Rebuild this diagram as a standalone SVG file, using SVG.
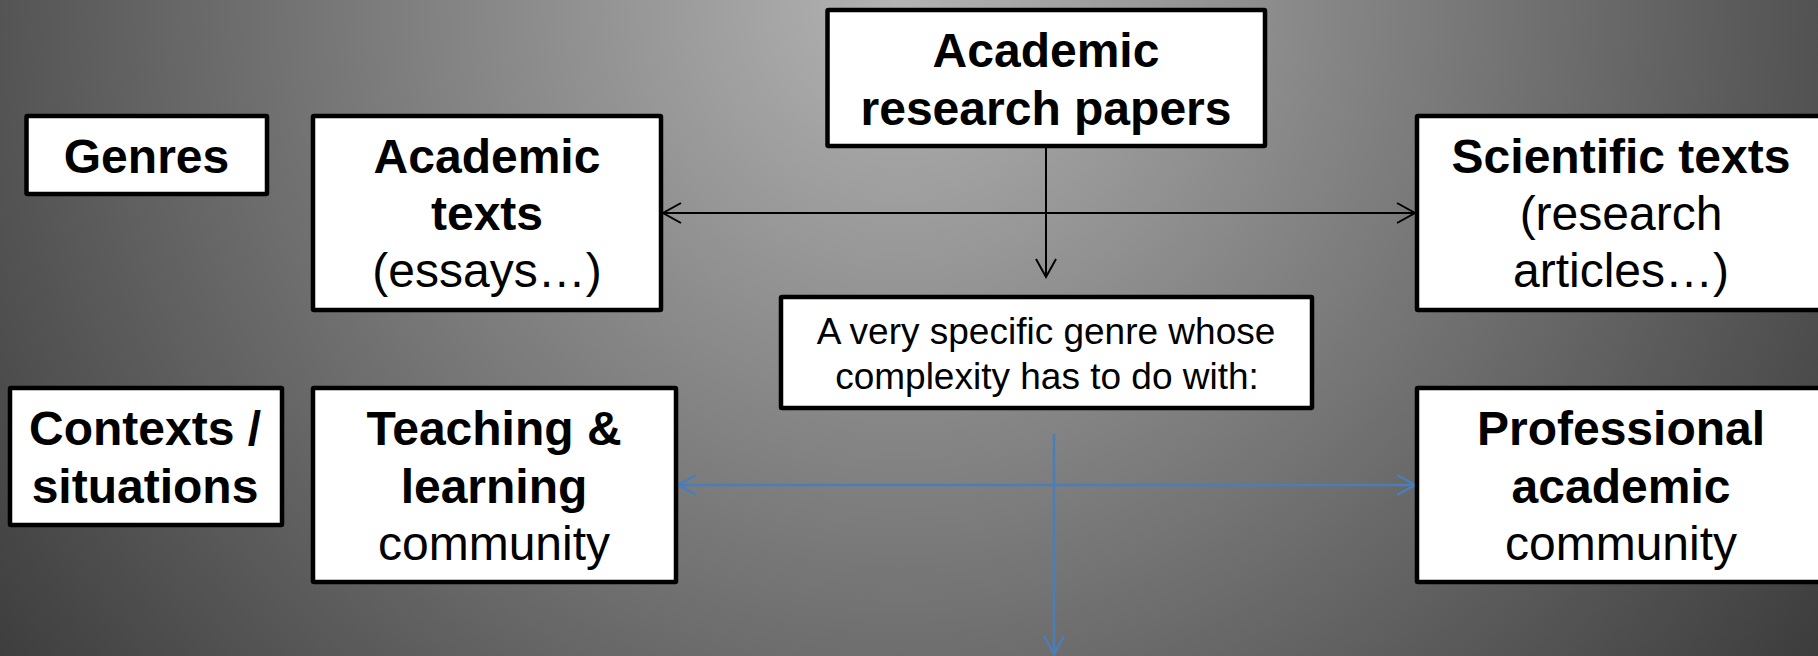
<svg xmlns="http://www.w3.org/2000/svg" width="1818" height="656" viewBox="0 0 1818 656">
<defs>
<radialGradient id="bg" gradientUnits="userSpaceOnUse" cx="900" cy="0" r="1150">
<stop offset="0" stop-color="#b3b3b3"/>
<stop offset="1" stop-color="#3a3a3a"/>
</radialGradient>
<marker id="ak" markerUnits="userSpaceOnUse" markerWidth="26" markerHeight="26" viewBox="-22 -13 26 26" refX="0" refY="0" orient="auto-start-reverse">
<path d="M-18,-10 L0,0 L-18,10" fill="none" stroke="#000" stroke-width="2"/>
</marker>
<marker id="ab" markerUnits="userSpaceOnUse" markerWidth="26" markerHeight="26" viewBox="-22 -13 26 26" refX="0" refY="0" orient="auto-start-reverse">
<path d="M-18,-10 L0,0 L-18,10" fill="none" stroke="#4a7ebb" stroke-width="2.5"/>
</marker>
</defs>
<style>
.box{fill:#fff;stroke:#000;stroke-width:4.5;}
text{font-family:"Liberation Sans",Arial,sans-serif;text-anchor:middle;fill:#000;}
.b{font-weight:bold;font-size:48px;}
.r{font-size:48px;}
.s{font-size:37px;}
.ck{stroke:#000;stroke-width:2;fill:none;}
.cb{stroke:#4a7ebb;stroke-width:2.5;fill:none;}
</style>
<rect x="0" y="0" width="1818" height="656" fill="url(#bg)"/>
<g id="connectors">
<line class="ck" x1="663" y1="213" x2="1415" y2="213" marker-start="url(#ak)" marker-end="url(#ak)"/>
<line class="ck" x1="1046" y1="148" x2="1046" y2="277" marker-end="url(#ak)"/>
<line class="cb" x1="678" y1="485" x2="1415" y2="485" marker-start="url(#ab)" marker-end="url(#ab)"/>
<line class="cb" x1="1054" y1="434" x2="1054" y2="654" marker-end="url(#ab)"/>
</g>
<g id="genres">
<rect class="box" x="26.5" y="116" width="240.5" height="78" rx="1"/>
<text class="b" x="146.5" y="173">Genres</text>
</g>
<g id="academic-texts">
<rect class="box" x="313" y="116" width="348" height="194" rx="1"/>
<text class="b" x="487" y="173">Academic</text>
<text class="b" x="487" y="230">texts</text>
<text class="r" x="487" y="287">(essays…)</text>
</g>
<g id="academic-research-papers">
<rect class="box" x="827.5" y="10" width="437.5" height="136" rx="1"/>
<text class="b" x="1046" y="67">Academic</text>
<text class="b" x="1046" y="125">research papers</text>
</g>
<g id="scientific-texts">
<rect class="box" x="1417" y="116" width="408" height="194" rx="1"/>
<text class="b" x="1621" y="173">Scientific texts</text>
<text class="r" x="1621" y="230">(research</text>
<text class="r" x="1621" y="287">articles…)</text>
</g>
<g id="specific-genre">
<rect class="box" x="781" y="297" width="531" height="111" rx="1"/>
<text class="s" x="1046" y="344">A very specific genre whose</text>
<text class="s" x="1047" y="389">complexity has to do with:</text>
</g>
<g id="contexts">
<rect class="box" x="10" y="388" width="272" height="137" rx="1"/>
<text class="b" x="145" y="445">Contexts /</text>
<text class="b" x="145" y="503">situations</text>
</g>
<g id="teaching-learning">
<rect class="box" x="313" y="388" width="363" height="194" rx="1"/>
<text class="b" x="494" y="445">Teaching &amp;</text>
<text class="b" x="494" y="503">learning</text>
<text class="r" x="494" y="560">community</text>
</g>
<g id="professional-academic">
<rect class="box" x="1417" y="388" width="408" height="194" rx="1"/>
<text class="b" x="1621" y="445">Professional</text>
<text class="b" x="1621" y="503">academic</text>
<text class="r" x="1621" y="560">community</text>
</g>
</svg>
